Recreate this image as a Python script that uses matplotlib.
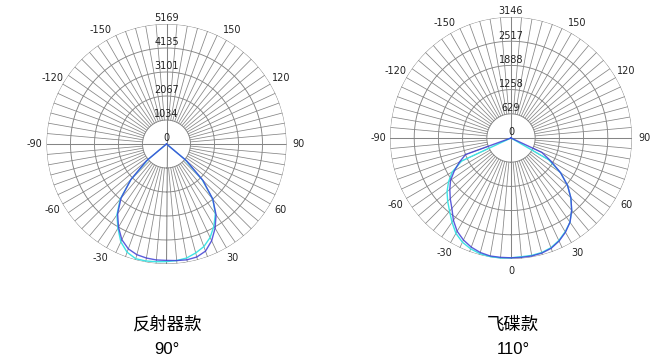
import numpy as np
import matplotlib
matplotlib.use('Agg')
import matplotlib.pyplot as plt

# ---------------- data ----------------
angles = list(range(-90, 95, 5))  # degrees, 0 = straight down

# Left chart: 反射器款 (90°), max scale 5169 cd
left_max = 5169
left_ticks = ["0", "1034", "2067", "3101", "4135", "5169"]
left_c0 = [0, 0, 0, 0, 0, 0, 0, 0, 1137, 2171, 3050, 3670, 4135, 4549, 4807, 4936, 4988, 5014,
           5014, 5040, 5066, 5040, 4911, 4600, 4187, 3722, 3101, 2223, 1137, 0, 0, 0, 0, 0, 0, 0, 0]
left_c90 = [0, 0, 0, 0, 0, 0, 0, 0, 1034, 2171, 3101, 3722, 4187, 4652, 4962, 5117, 5117, 5091,
            5066, 5040, 4988, 4859, 4704, 4445, 4084, 3670, 3101, 2171, 1034, 0, 0, 0, 0, 0, 0, 0, 0]

# Right chart: 飞碟款 (110°), max scale 3146 cd
right_max = 3146
right_ticks = ["0", "629", "1258", "1888", "2517", "3146"]
right_c0 = [0, 0, 0, 0, 1258, 1479, 1699, 1919, 2076, 2234, 2391, 2611, 2800, 2926, 3020, 3083, 3115, 3115,
            3115, 3115, 3115, 3099, 3052, 2957, 2831, 2674, 2454, 2202, 1919, 1573, 1195, 881, 0, 0, 0, 0, 0]
right_c90 = [0, 0, 0, 0, 0, 1416, 1762, 1982, 2171, 2328, 2485, 2674, 2863, 2989, 3067, 3115, 3130, 3130,
             3115, 3099, 3099, 3083, 3036, 2942, 2816, 2674, 2454, 2202, 1919, 1573, 1133, 0, 0, 0, 0, 0, 0]

angle_labels_deg = [-150, -120, -90, -60, -30, 0, 30, 60, 90, 120, 150]
titles = ["反射器款", "飞碟款"]
subtitles = ["90°", "110°"]

# ---------------- figure ----------------
W, H = 670, 364
fig = plt.figure(figsize=(W / 100, H / 100), dpi=100)
fig.patch.set_facecolor('white')

grid_col = '#858585'
txt_col = '#222222'
c_indigo = '#4040d4'
c_cyan = '#3fe4e4'


def make_ax(cx, cy, R):
    return fig.add_axes([(cx - R) / W, 1 - (cy + R) / H, 2 * R / W, 2 * R / H], projection='polar')


def draw(ax, rmax, ticks, c0, c90, show_zero):
    ax.set_theta_zero_location('S')
    ax.set_theta_direction(1)
    ax.set_ylim(0, rmax)
    ax.axis('off')
    th = np.linspace(0, 2 * np.pi, 721)
    for k in range(1, 6):
        ax.plot(th, np.full_like(th, rmax * k / 5), color=grid_col, lw=0.65, zorder=1)
    for a in range(0, 360, 5):
        t = np.deg2rad(a)
        r0 = 0 if a % 90 == 0 else rmax / 5
        ax.plot([t, t], [r0, rmax], color=grid_col, lw=0.55 if a % 90 else 0.75, zorder=1)
    for k, lab in enumerate(ticks):
        ax.text(np.pi, rmax * k / 5 + rmax * 0.005, lab, ha='center', va='bottom',
                fontsize=7, color=txt_col, family='DejaVu Sans', zorder=5)
    for a in angle_labels_deg:
        if a == 0 and not show_zero:
            continue
        ax.text(np.deg2rad(a), rmax * 1.1, str(a), ha='center', va='center',
                fontsize=7, color=txt_col, family='DejaVu Sans', clip_on=False)
    t = np.deg2rad(angles)
    ax.plot(t, c90, color=c_cyan, lw=1.0, zorder=3, clip_on=False)
    ax.plot(t, c0, color=c_indigo, lw=1.0, alpha=0.85, zorder=4, clip_on=False)


axL = make_ax(166.5, 144, 120)
draw(axL, left_max, left_ticks, left_c0, left_c90, False)
axR = make_ax(511, 138, 121)
draw(axR, right_max, right_ticks, right_c0, right_c90, True)

for x, t1, t2 in [(167, titles[0], subtitles[0]), (513, titles[1], subtitles[1])]:
    fig.text(x / W, 1 - 325 / H, t1, ha='center', va='center', fontsize=12.5,
             family=['Noto Sans CJK SC', 'DejaVu Sans'], color='black')
    fig.text(x / W, 1 - 349 / H, t2, ha='center', va='center', fontsize=12,
             family=['Liberation Sans', 'DejaVu Sans'], color='black')

fig.savefig('out.png', dpi=100, facecolor='white')
